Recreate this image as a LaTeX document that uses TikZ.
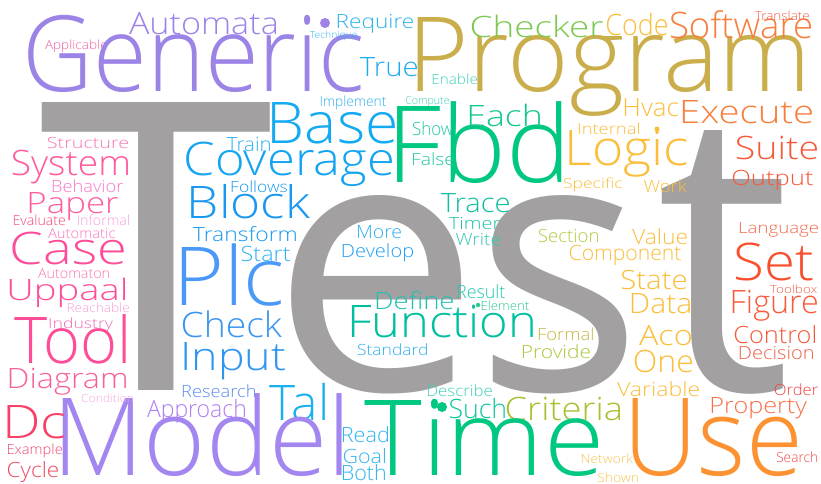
\documentclass[tikz,border=0pt]{standalone}
\usepackage{fontspec}
\setmainfont{Open Sans Light}
\newfontfamily\bigglyph{Open Sans}
\usepackage{graphicx}
\makeatletter
\newdimen\cw@l \newdimen\cw@r \newdimen\cw@w \newdimen\cw@h
% side bearings of the first and last glyph, so words are placed by their ink
\def\cw@first#1#2\cw@end{\cw@l=\XeTeXglyphbounds1 \XeTeXcharglyph`#1\relax}
\def\cw@last#1#2\cw@end{\if\relax\detokenize{#2}\relax
  \cw@r=\XeTeXglyphbounds3 \XeTeXcharglyph`#1\relax
  \else\cw@last#2\cw@end\fi}
% \cw{left}{right}{baseline}{cap height}{hex colour}{word}
\newcommand\cw[6]{%
  \definecolor{cwc}{HTML}{#5}%
  \node[word, text=cwc] (w#6) at (#1,-#3) {%
    \fontsize{\fpeval{#4*1.4007}}{\fpeval{#4*1.6}}\selectfont
    \cw@first#6\cw@end\cw@last#6\cw@end
    \cw@w=\dimexpr#2pt-#1pt\relax
    \resizebox{\cw@w}{\height}{\hspace*{-\cw@l}#6\hspace*{-\cw@r}}};}
% \cl{left}{right}{baseline}{top}{hex colour}{letter}{name}: one scaled glyph
\newcommand\cl[7]{%
  \definecolor{cwc}{HTML}{#5}%
  \node[word, text=cwc] (#7) at (#1,-#3) {%
    \bigglyph\fontsize{400}{480}\selectfont
    \cw@first#6\cw@end\cw@last#6\cw@end
    \cw@w=\dimexpr#2pt-#1pt\relax
    \cw@h=\dimexpr#3pt-#4pt\relax
    \resizebox{\cw@w}{\cw@h}{\hspace*{-\cw@l}#6\hspace*{-\cw@r}}};}
\makeatother
\tikzset{
  word/.style={anchor=base west, inner sep=0pt, outer sep=0pt},
  blob/.style={circle, inner sep=0pt, draw=none}
}
\begin{document}
\begin{tikzpicture}[x=1pt,y=1pt]
\fill[white] (0,0) rectangle (821,-484);
\useasboundingbox (0,0) rectangle (821,-484);
% the dominant word, glyph by glyph
\cl{42}{270}{390}{102}{A3A0A1}{T}{tT}
\cl{292}{462}{390}{195}{A3A0A1}{e}{te}
\cl{493}{627}{390}{195}{A3A0A1}{s}{ts}
\cl{662}{783}{390}{130}{A3A0A1}{t}{tt}
% top band
\cw{129}{276}{35}{22}{9E82E8}{Automata}
\cw{45}{107}{50}{9}{F060A8}{Applicable}
\cw{29}{362}{92}{75}{9C84E6}{Generic}
\cw{338}{413}{29}{14}{2AB4F0}{Require}
\cw{310}{357}{39}{7}{30B8F0}{Technique}
\cw{418}{803}{92}{74}{CBAE4C}{Program}
\cw{472}{603}{38}{21}{7CC850}{Checker}
\cw{607}{667}{36}{21}{FBBE3A}{Code}
\cw{671}{811}{39}{26}{F87E3C}{Software}
\cw{755}{809}{21}{9}{F0604A}{Translate}
\cw{360}{417}{77}{19}{20ACF0}{True}
\cw{433}{477}{85}{10}{40D0B8}{Enable}
\cw{321}{386}{107}{10}{30B0F0}{Implement}
\cw{406}{449}{105}{8}{40D0B8}{Compute}
\cw{273}{395}{143}{41}{14AAF2}{Base}
\cw{398}{562}{182}{76}{00C880}{Fbd}
\cw{470}{540}{127}{21}{10C890}{Each}
\cw{625}{678}{117}{18}{FBBE3A}{Hvac}
\cw{683}{812}{123}{23}{F87E3C}{Execute}
\cw{579}{639}{135}{11}{FBBE3A}{Internal}
\cw{570}{687}{165}{35}{FBBE3A}{Logic}
\cw{737}{817}{160}{23}{F8583A}{Suite}
% right side
\cw{564}{622}{188}{10}{FBBE3A}{Specific}
\cw{644}{687}{192}{12}{FBBE3A}{Work}
\cw{733}{813}{185}{15}{F8583A}{Output}
\cw{740}{818}{233}{11}{F06A4C}{Language}
\cw{737}{813}{280}{37}{F8502E}{Set}
\cw{770}{817}{293}{8}{F06048}{Toolbox}
\cw{733}{817}{313}{23}{F85A3A}{Figure}
\cw{539}{598}{242}{13}{B0CC40}{Section}
\cw{632}{687}{244}{15}{FBBE3A}{Value}
\cw{570}{681}{260}{15}{FBBE3A}{Component}
\cw{622}{686}{289}{19}{FBBE3A}{State}
\cw{632}{690}{313}{20}{FBBE3A}{Data}
\cw{539}{593}{340}{12}{C4B848}{Formal}
\cw{523}{590}{358}{13}{A8C838}{Provide}
\cw{639}{691}{345}{20}{FBBE3A}{Aco}
\cw{635}{692}{372}{22}{FBBE3A}{One}
\cw{617}{699}{396}{14}{FBBE3A}{Variable}
\cw{735}{815}{343}{17}{F8583A}{Control}
\cw{740}{813}{359}{13}{F06048}{Decision}
\cw{775}{818}{395}{11}{F04444}{Order}
\cw{712}{807}{413}{16}{F8704A}{Property}
\cw{777}{817}{462}{10}{F04848}{Search}
\cw{633}{797}{475}{77}{FC9232}{Use}
% bottom band
\cw{507}{620}{420}{23}{A8C030}{Criteria}
\cw{582}{633}{463}{9}{F8C454}{Network}
\cw{598}{638}{482}{9}{F8C454}{Shown}
\cw{365}{598}{475}{75}{00C880}{Time}
\cw{352}{533}{337}{32}{00C0A0}{Function}
\cw{358}{427}{355}{11}{30B0F0}{Standard}
\cw{428}{492}{396}{11}{40D0B8}{Describe}
\cw{450}{505}{418}{19}{10C8A0}{Such}
\cw{270}{325}{420}{35}{18B0F0}{Tal}
\cw{343}{388}{442}{15}{30B4F0}{Read}
\cw{344}{385}{463}{14}{30B4F0}{Goal}
\cw{343}{385}{480}{15}{30B4F0}{Both}
\cw{63}{342}{475}{77}{A386F0}{Model}
% left column
\cw{50}{113}{328}{10}{F070B8}{Industry}
\cw{15}{126}{363}{46}{FF4C98}{Tool}
\cw{10}{126}{388}{20}{F8609C}{Diagram}
\cw{82}{133}{402}{8}{F8A8E0}{Condition}
\cw{8}{65}{438}{33}{F84068}{Dc}
\cw{8}{62}{454}{10}{F04870}{Example}
\cw{8}{58}{477}{15}{F04860}{Cycle}
\cw{13}{128}{175}{25}{FF5A9C}{System}
\cw{48}{128}{148}{11}{F878B8}{Structure}
\cw{53}{123}{192}{12}{F878C8}{Behavior}
\cw{30}{118}{213}{21}{FF5CA0}{Paper}
\cw{14}{65}{225}{10}{F04878}{Evaluate}
\cw{78}{129}{225}{10}{F8A0E0}{Informal}
\cw{48}{115}{238}{10}{F878C0}{Automatic}
\cw{13}{124}{264}{32}{FF4C98}{Case}
\cw{38}{109}{278}{10}{F878B8}{Automaton}
\cw{10}{125}{300}{21}{FF4C98}{Uppaal}
\cw{68}{129}{312}{9}{F8A0D8}{Reachable}
% blue group inside the T
\cw{183}{282}{337}{25}{3C96F0}{Check}
\cw{185}{285}{370}{28}{2E96F2}{Input}
\cw{183}{255}{397}{12}{5A8CF0}{Research}
\cw{147}{245}{417}{17}{B07EF0}{Approach}
\cw{187}{392}{175}{33}{14A4F2}{Coverage}
\cw{227}{270}{152}{14}{30B0F0}{Train}
\cw{232}{287}{192}{11}{1A9CF0}{Follows}
\cw{192}{310}{218}{32}{1898F0}{Block}
\cw{193}{296}{241}{14}{1898F0}{Transform}
\cw{242}{290}{261}{15}{30B0F0}{Start}
\cw{182}{282}{305}{58}{4A98F8}{Plc}
% centre
\cw{358}{401}{238}{13}{30B0F0}{More}
\cw{343}{413}{257}{13}{1EA0F0}{Develop}
\cw{441}{509}{212}{19}{10C0A0}{Trace}
\cw{449}{500}{229}{12}{20C0A8}{Timer}
\cw{456}{500}{245}{12}{30C8B0}{Write}
\cw{377}{453}{309}{17}{20C0B0}{Define}
\cw{458}{505}{298}{13}{20C8B0}{Result}
\cw{482}{529}{310}{9}{30C890}{Element}
\cw{413}{454}{165}{12}{20C8A8}{False}
\cw{413}{453}{135}{13}{20C8A8}{Show}
% bullet marks
\node[blob, fill={rgb,255:red,158;green,130;blue,232}, minimum size=10pt] (dotA) at (325,-23) {};
\node[blob, fill={rgb,255:red,251;green,190;blue,58}, minimum size=5pt] (dotB) at (657,-129) {};
\node[blob, fill={rgb,255:red,48;green,200;blue,144}, minimum size=4.5pt] (dotC) at (478,-305) {};
\node[blob, fill={rgb,255:red,0;green,200;blue,128}, minimum size=10pt] (dotD) at (442,-407) {};
\end{tikzpicture}
\end{document}
